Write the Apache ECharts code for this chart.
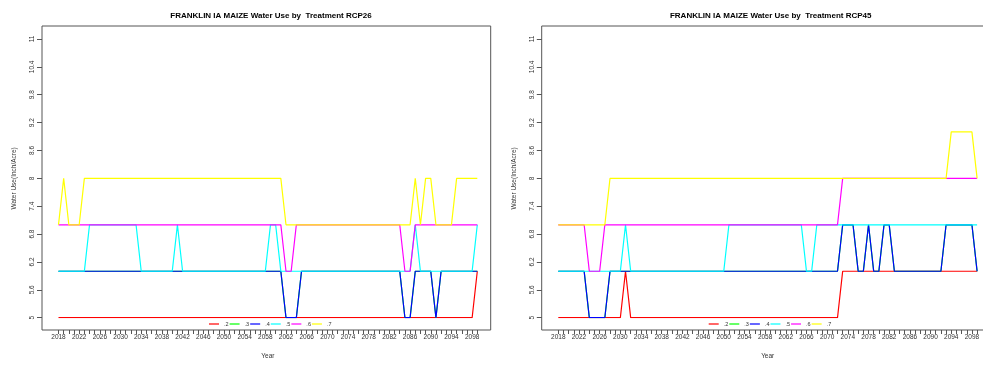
<!DOCTYPE html>
<html>
<head>
<meta charset="utf-8">
<script src="https://cdn.jsdelivr.net/npm/echarts@6/dist/echarts.min.js"></script>
<style>html,body{margin:0;padding:0;background:#fff}#c{width:983px;height:366px}</style>
</head>
<body>
<div id="c"></div>
<script>
const years = [2018,2019,2020,2021,2022,2023,2024,2025,2026,2027,
2028,2029,2030,2031,2032,2033,2034,2035,2036,2037,
2038,2039,2040,2041,2042,2043,2044,2045,2046,2047,
2048,2049,2050,2051,2052,2053,2054,2055,2056,2057,
2058,2059,2060,2061,2062,2063,2064,2065,2066,2067,
2068,2069,2070,2071,2072,2073,2074,2075,2076,2077,
2078,2079,2080,2081,2082,2083,2084,2085,2086,2087,
2088,2089,2090,2091,2092,2093,2094,2095,2096,2097,
2098,2099];

const seriesNames = ['.2','.3','.4','.5','.6','.7'];
const seriesColors = ['#ff0000','#00ff00','#0000ff','#00ffff','#ff00ff','#ffff00'];
const titles = ['FRANKLIN IA MAIZE Water Use by  Treatment RCP26','FRANKLIN IA MAIZE Water Use by  Treatment RCP45'];
const yTicks = [5,5.6,6.2,6.8,7.4,8,8.6,9.2,9.8,10.4,11];

// RCP26
const red26 = [5,5,5,5,5,5,5,5,5,5,
5,5,5,5,5,5,5,5,5,5,
5,5,5,5,5,5,5,5,5,5,
5,5,5,5,5,5,5,5,5,5,
5,5,5,5,5,5,5,5,5,5,
5,5,5,5,5,5,5,5,5,5,
5,5,5,5,5,5,5,5,5,5,
5,5,5,5,5,5,5,5,5,5,
5,6];
const blue26 = [6,6,6,6,6,6,6,6,6,6,
6,6,6,6,6,6,6,6,6,6,
6,6,6,6,6,6,6,6,6,6,
6,6,6,6,6,6,6,6,6,6,
6,6,6,6,5,5,5,6,6,6,
6,6,6,6,6,6,6,6,6,6,
6,6,6,6,6,6,6,5,5,6,
6,6,6,5,6,6,6,6,6,6,
6,6];
const green26 = [6,6,6,6,6,6,6,6,6,6,
6,6,6,6,6,6,6,6,6,6,
6,6,6,6,6,6,6,6,6,6,
6,6,6,6,6,6,6,6,6,6,
6,6,6,6,5,5,5,6,6,6,
6,6,6,6,6,6,6,6,6,6,
6,6,6,6,6,6,6,5,5,6,
6,6,6,5,6,6,6,6,6,6,
6,6];
const cyan26 = [6,6,6,6,6,6,7,7,7,7,
7,7,7,7,7,7,6,6,6,6,
6,6,6,7,6,6,6,6,6,6,
6,6,6,6,6,6,6,6,6,6,
6,7,7,6,6,6,6,6,6,6,
6,6,6,6,6,6,6,6,6,6,
6,6,6,6,6,6,6,6,6,7,
6,6,6,6,6,6,6,6,6,6,
6,7];
const mag26 = [7,7,7,7,7,7,7,7,7,7,
7,7,7,7,7,7,7,7,7,7,
7,7,7,7,7,7,7,7,7,7,
7,7,7,7,7,7,7,7,7,7,
7,7,7,7,6,6,7,7,7,7,
7,7,7,7,7,7,7,7,7,7,
7,7,7,7,7,7,7,6,6,7,
7,7,7,7,7,7,7,7,7,7,
7,7];
const yel26 = [7,8,7,7,7,8,8,8,8,8,
8,8,8,8,8,8,8,8,8,8,
8,8,8,8,8,8,8,8,8,8,
8,8,8,8,8,8,8,8,8,8,
8,8,8,8,7,7,7,7,7,7,
7,7,7,7,7,7,7,7,7,7,
7,7,7,7,7,7,7,7,7,8,
7,8,8,7,7,7,7,8,8,8,
8,8];

// RCP45
const red45 = [5,5,5,5,5,5,5,5,5,5,
5,5,5,6,5,5,5,5,5,5,
5,5,5,5,5,5,5,5,5,5,
5,5,5,5,5,5,5,5,5,5,
5,5,5,5,5,5,5,5,5,5,
5,5,5,5,5,6,6,6,6,6,
6,6,6,6,6,6,6,6,6,6,
6,6,6,6,6,6,6,6,6,6,
6,6];
const blue45 = [6,6,6,6,6,6,5,5,5,5,
6,6,6,6,6,6,6,6,6,6,
6,6,6,6,6,6,6,6,6,6,
6,6,6,6,6,6,6,6,6,6,
6,6,6,6,6,6,6,6,6,6,
6,6,6,6,6,7,7,7,6,6,
7,6,6,7,7,6,6,6,6,6,
6,6,6,6,6,7,7,7,7,7,
7,6];
const green45 = [6,6,6,6,6,6,5,5,5,5,
6,6,6,6,6,6,6,6,6,6,
6,6,6,6,6,6,6,6,6,6,
6,6,6,6,6,6,6,6,6,6,
6,6,6,6,6,6,6,6,6,6,
6,6,6,6,6,7,7,7,6,6,
7,6,6,7,7,6,6,6,6,6,
6,6,6,6,6,7,7,7,7,7,
7,6];
const cyan45 = [6,6,6,6,6,6,6,6,6,6,
6,6,6,7,6,6,6,6,6,6,
6,6,6,6,6,6,6,6,6,6,
6,6,6,7,7,7,7,7,7,7,
7,7,7,7,7,7,7,7,6,6,
7,7,7,7,7,7,7,7,7,7,
7,7,7,7,7,7,7,7,7,7,
7,7,7,7,7,7,7,7,7,7,
7,7];
const mag45 = [7,7,7,7,7,7,6,6,6,7,
7,7,7,7,7,7,7,7,7,7,
7,7,7,7,7,7,7,7,7,7,
7,7,7,7,7,7,7,7,7,7,
7,7,7,7,7,7,7,7,7,7,
7,7,7,7,7,8,8,8,8,8,
8,8,8,8,8,8,8,8,8,8,
8,8,8,8,8,8,8,8,8,8,
8,8];
const yel45 = [7,7,7,7,7,7,7,7,7,7,
8,8,8,8,8,8,8,8,8,8,
8,8,8,8,8,8,8,8,8,8,
8,8,8,8,8,8,8,8,8,8,
8,8,8,8,8,8,8,8,8,8,
8,8,8,8,8,8,8,8,8,8,
8,8,8,8,8,8,8,8,8,8,
8,8,8,8,8,8,9,9,9,9,
9,8];

const panels = [
  [red26, green26, blue26, cyan26, mag26, yel26],
  [red45, green45, blue45, cyan45, mag45, yel45]
];

const FONT = '"Liberation Sans", Arial, sans-serif';
const gridLeft = [58.5, 558.3];
const boxLeft = [42, 541.7];

const grids = [], xAxes = [], yAxes = [], series = [], titleArr = [], legends = [], graphics = [];
panels.forEach((p, gi) => {
  grids.push({left: gridLeft[gi], top: 39, width: 418.8, height: 278.7, containLabel: false});
  xAxes.push({
    type: 'category', gridIndex: gi, data: years, boundaryGap: false, offset: 12.3,
    axisLine: {show: false},
    axisTick: {show: true, interval: 0, length: 4, lineStyle: {color: '#555', width: 1}},
    axisLabel: {interval: 3, fontSize: 6.5, color: '#333', margin: 4, fontFamily: FONT},
    name: 'Year', nameLocation: 'middle', nameGap: 23,
    nameTextStyle: {fontSize: 6.5, color: '#333', fontFamily: FONT},
    splitLine: {show: false}
  });
  yAxes.push({
    type: 'value', gridIndex: gi, min: 5, max: 11, interval: 0.6, offset: 16.5,
    axisLine: {show: false},
    axisTick: {show: true, length: 5, lineStyle: {color: '#555', width: 1}},
    axisLabel: {rotate: 90, fontSize: 6.5, color: '#333', margin: 6, fontFamily: FONT,
      formatter: v => String(+v.toFixed(1))},
    splitLine: {show: false},
    name: 'Water Use(Inch/Acre)', nameLocation: 'middle', nameGap: 24, nameRotate: 90,
    nameTextStyle: {fontSize: 6.5, color: '#333', fontFamily: FONT}
  });
  p.forEach((d, si) => {
    series.push({
      type: 'line', name: seriesNames[si], xAxisIndex: gi, yAxisIndex: gi, data: d,
      showSymbol: false, symbol: 'none', color: seriesColors[si],
      lineStyle: {width: 1.2, color: seriesColors[si]}, z: 2 + si
    });
  });
  titleArr.push({
    text: titles[gi], left: boxLeft[gi] + 224, top: 7, textAlign: 'center',
    textStyle: {fontSize: 8, fontWeight: 'bold', color: '#000', fontFamily: FONT}
  });
  legends.push({
    data: seriesNames, left: boxLeft[gi] + 167, top: 321, orient: 'horizontal', padding: 0,
    icon: 'rect', itemWidth: 10, itemHeight: 1.2, itemGap: 1,
    textStyle: {fontSize: 5.5, color: '#333', fontFamily: FONT}
  });
  graphics.push({
    type: 'rect', shape: {x: boxLeft[gi], y: 26, width: 448.7, height: 304},
    style: {fill: 'none', stroke: '#555', lineWidth: 1}, z: 10
  });
});

const chart = echarts.init(document.getElementById('c'), null, {renderer: 'canvas'});
chart.setOption({
  animation: false,
  backgroundColor: '#fff',
  title: titleArr,
  legend: legends,
  grid: grids,
  xAxis: xAxes,
  yAxis: yAxes,
  series: series,
  graphic: graphics
});
</script>
</body>
</html>
